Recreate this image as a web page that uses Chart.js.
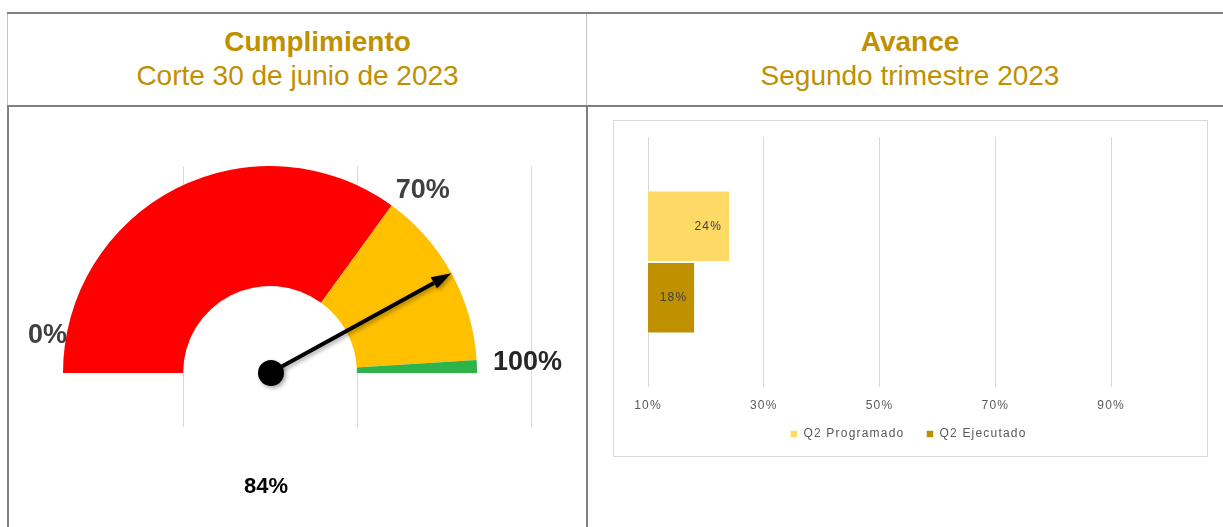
<!DOCTYPE html>
<html>
<head>
<meta charset="utf-8">
<script src="https://cdn.jsdelivr.net/npm/chart.js@4.4.0/dist/chart.umd.min.js"></script>
<style>
  html, body { margin: 0; padding: 0; background: #fff; }
  #page { position: relative; width: 1223px; height: 527px; overflow: hidden; font-family: "Liberation Sans", Arial, sans-serif; }
  .ln { position: absolute; background: #808080; }
  .ln.light { background: #c4c4c4; }
  .head { position: absolute; top: 25px; text-align: center; color: #BF9000; font-size: 28px; line-height: 34px; white-space: nowrap; }
  .head b { display: block; }
  canvas { position: absolute; }
  #barBox { position: absolute; left: 613px; top: 120px; width: 595px; height: 337px; box-sizing: border-box; border: 1px solid #d9d9d9; }
</style>
</head>
<body>
<div id="page">
  <div class="ln" style="left:7px;top:12px;width:1216px;height:2px"></div>
  <div class="ln light" style="left:7px;top:14px;width:1px;height:91px"></div>
  <div class="ln light" style="left:586px;top:14px;width:1px;height:91px"></div>
  <div class="ln" style="left:7px;top:105px;width:1216px;height:2px"></div>
  <div class="ln" style="left:7px;top:105px;width:2px;height:422px"></div>
  <div class="ln" style="left:586px;top:105px;width:2px;height:422px"></div>

  <div class="head" style="left:9px;width:577px">
    <b style="padding-left:40px">Cumplimiento</b>
    <span>Corte 30 de junio de 2023</span>
  </div>
  <div class="head" style="left:589px;width:642px">
    <b>Avance</b>
    <span>Segundo trimestre 2023</span>
  </div>

  <canvas id="gauge" width="577" height="420" style="left:9px;top:107px"></canvas>
  <div id="barBox"></div>
  <canvas id="bars" width="595" height="337" style="left:613px;top:120px"></canvas>
</div>

<script>
// gauge data
const gaugeSegments = ['0-70', '70-98', '98-100'];
const gaugeBands = [70, 28, 2];
const gaugeValue = 84;
const gaugeMarks = [0, 70, 100];

// bar data
const categories = ['Q2'];
const seriesNames = ['Q2 Programado', 'Q2 Ejecutado'];
const programado = [0.24];
const ejecutado = [0.18];
const xTickValues = [0.1, 0.3, 0.5, 0.7, 0.9];

Chart.defaults.font.family = '"Liberation Sans", Arial, sans-serif';

const gaugePlugin = {
  id: 'gauge',
  beforeDatasetsDraw(chart) {
    const arc = chart.getDatasetMeta(0).data[0];
    const { x, y, innerRadius: ir, outerRadius: r } = arc.getProps(['x', 'y', 'innerRadius', 'outerRadius'], true);
    const ctx = chart.ctx;
    ctx.save();
    ctx.strokeStyle = '#d9d9d9';
    ctx.lineWidth = 1;
    [-1, 1, 3].forEach(k => {
      const gx = Math.round(x + k * ir) + 0.5;
      ctx.beginPath();
      ctx.moveTo(gx, y - r);
      ctx.lineTo(gx, y + 54);
      ctx.stroke();
    });
    ctx.restore();
  },
  afterDatasetsDraw(chart) {
    const arc = chart.getDatasetMeta(0).data[0];
    const { x, y, outerRadius: r } = arc.getProps(['x', 'y', 'outerRadius'], true);
    const total = gaugeBands.reduce((a, b) => a + b, 0);
    const ctx = chart.ctx;
    const ang = v => Math.PI * (1 + v / total);

    // mark labels
    ctx.save();
    ctx.font = 'bold 27px "Liberation Sans", Arial, sans-serif';
    ctx.fillStyle = '#404040';
    ctx.textBaseline = 'alphabetic';
    gaugeMarks.forEach((v, i) => {
      const a = ang(v);
      const px = x + r * Math.cos(a), py = y + r * Math.sin(a);
      const txt = v + '%';
      if (i === 0) {
        ctx.textAlign = 'right';
        ctx.fillText(txt, px + 4, py - 30);
      } else if (i === gaugeMarks.length - 1) {
        ctx.textAlign = 'left';
        ctx.fillStyle = '#262626';
        ctx.fillText(txt, px + 16, py - 3);
      } else {
        ctx.textAlign = 'left';
        ctx.fillText(txt, px + 4, py - 8);
      }
    });
    ctx.restore();

    // needle
    const a = ang(gaugeValue);
    const c = Math.cos(a), s = Math.sin(a);
    const tipX = x + r * c, tipY = y + r * s;
    const baseX = tipX - 20 * c, baseY = tipY - 20 * s;
    ctx.save();
    ctx.shadowColor = 'rgba(0,0,0,0.35)';
    ctx.shadowBlur = 4;
    ctx.shadowOffsetX = 2;
    ctx.shadowOffsetY = 2;
    ctx.strokeStyle = '#000';
    ctx.fillStyle = '#000';
    ctx.lineWidth = 4;
    ctx.beginPath();
    ctx.moveTo(x, y);
    ctx.lineTo(baseX, baseY);
    ctx.stroke();
    ctx.beginPath();
    ctx.moveTo(tipX, tipY);
    ctx.lineTo(baseX - 6.5 * s, baseY + 6.5 * c);
    ctx.lineTo(baseX + 6.5 * s, baseY - 6.5 * c);
    ctx.closePath();
    ctx.fill();
    ctx.beginPath();
    ctx.arc(x + 1, y, 13, 0, Math.PI * 2);
    ctx.fill();
    ctx.restore();

    // value text
    ctx.save();
    ctx.font = 'bold 22px "Liberation Sans", Arial, sans-serif';
    ctx.fillStyle = '#000';
    ctx.textAlign = 'center';
    ctx.fillText(gaugeValue + '%', x - 4, y + 120);
    ctx.restore();
  }
};

new Chart(document.getElementById('gauge'), {
  type: 'doughnut',
  data: {
    labels: gaugeSegments,
    datasets: [{
      data: gaugeBands,
      backgroundColor: ['#FF0000', '#FFC000', '#2DB34A'],
      borderWidth: 0,
      hoverOffset: 0
    }]
  },
  options: {
    responsive: false,
    animation: false,
    rotation: -90,
    circumference: 180,
    cutout: '42%',
    layout: { padding: { left: 54, right: 109, top: 59, bottom: 154 } },
    plugins: { legend: { display: false }, tooltip: { enabled: false } }
  },
  plugins: [gaugePlugin]
});

const spacing = {
  id: 'spacing',
  beforeUpdate(chart) { chart.ctx.letterSpacing = '1.2px'; },
  beforeDraw(chart) { chart.ctx.letterSpacing = '1.2px'; }
};

const valueLabels = {
  id: 'valueLabels',
  afterDatasetsDraw(chart) {
    const ctx = chart.ctx;
    ctx.save();
    ctx.font = '12px "Liberation Sans", Arial, sans-serif';
    ctx.fillStyle = '#404040';
    ctx.textAlign = 'right';
    ctx.textBaseline = 'middle';
    chart.data.datasets.forEach((ds, i) => {
      chart.getDatasetMeta(i).data.forEach((bar, j) => {
        ctx.fillText(Math.round(ds.data[j] * 100) + '%', bar.x - 7, bar.y);
      });
    });
    ctx.restore();
  }
};

new Chart(document.getElementById('bars'), {
  type: 'bar',
  data: {
    labels: categories,
    datasets: [
      { label: seriesNames[0], data: programado, backgroundColor: '#FFD966' },
      { label: seriesNames[1], data: ejecutado, backgroundColor: '#BF9000' }
    ]
  },
  options: {
    indexAxis: 'y',
    responsive: false,
    animation: false,
    datasets: {
      bar: {
        categoryPercentage: 0.572,
        barPercentage: 1,
        borderColor: '#fff',
        borderWidth: { top: 1, bottom: 1, left: 0, right: 0 }
      }
    },
    layout: { padding: { left: 35, right: 39, top: 17, bottom: 7 } },
    scales: {
      x: {
        min: 0.1,
        max: 1,
        afterBuildTicks: scale => { scale.ticks = xTickValues.map(v => ({ value: v })); },
        afterFit: scale => { scale.height = 28; },
        grid: { color: '#d9d9d9', drawTicks: false },
        border: { display: false },
        ticks: {
          padding: 11,
          color: '#595959',
          font: { size: 12 },
          callback: v => Math.round(v * 100) + '%'
        }
      },
      y: { display: false }
    },
    plugins: {
      legend: {
        position: 'bottom',
        labels: {
          boxWidth: 7,
          boxHeight: 7,
          padding: 13,
          color: '#595959',
          font: { size: 12 },
          generateLabels: chart => Chart.defaults.plugins.legend.labels.generateLabels(chart)
            .map((item, i, all) => i < all.length - 1 ? { ...item, text: item.text + '  ' } : item)
        }
      },
      tooltip: { enabled: false }
    }
  },
  plugins: [spacing, valueLabels]
});
</script>
</body>
</html>
